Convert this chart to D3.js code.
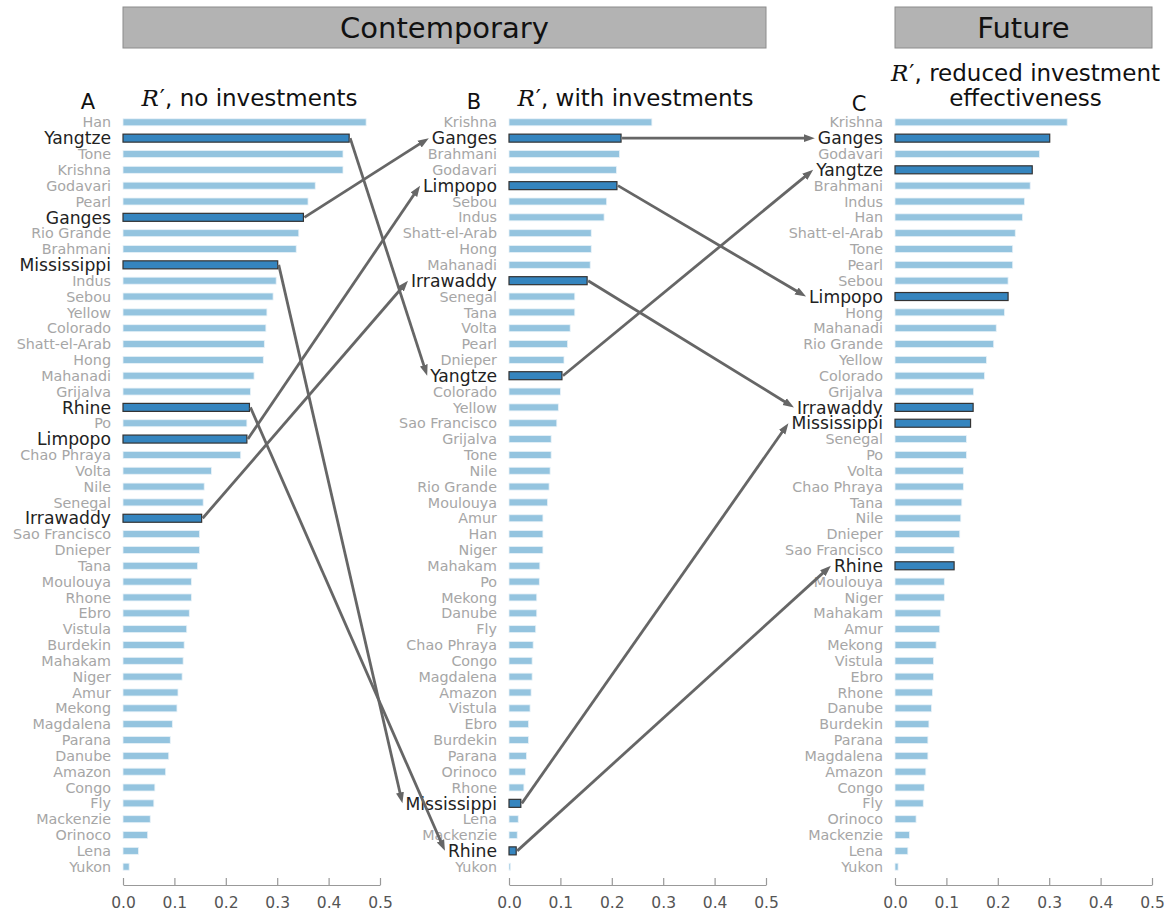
<!DOCTYPE html>
<html>
<head>
<meta charset="utf-8">
<script src="https://cdn.jsdelivr.net/npm/d3@7"></script>
<style>
  body { margin: 0; background: #fff; }
  text { font-family: "DejaVu Sans", sans-serif; }
</style>
</head>
<body>
<svg id="chart" width="1167" height="913"></svg>
<script>
// rivers and R' values
var riversA = ["Han","Yangtze","Tone","Krishna","Godavari","Pearl","Ganges","Rio Grande","Brahmani","Mississippi",
  "Indus","Sebou","Yellow","Colorado","Shatt-el-Arab","Hong","Mahanadi","Grijalva","Rhine","Po",
  "Limpopo","Chao Phraya","Volta","Nile","Senegal","Irrawaddy","Sao Francisco","Dnieper","Tana","Moulouya",
  "Rhone","Ebro","Vistula","Burdekin","Mahakam","Niger","Amur","Mekong","Magdalena","Parana",
  "Danube","Amazon","Congo","Fly","Mackenzie","Orinoco","Lena","Yukon"]
var valuesA = [0.473,0.440,0.428,0.428,0.374,0.360,0.351,0.342,0.337,0.301,
  0.298,0.292,0.280,0.278,0.275,0.273,0.255,0.248,0.246,0.241,
  0.241,0.229,0.172,0.158,0.156,0.153,0.149,0.149,0.145,0.133,
  0.133,0.129,0.124,0.119,0.117,0.115,0.107,0.105,0.096,0.092,
  0.089,0.083,0.062,0.060,0.053,0.048,0.030,0.012]

var riversB = ["Krishna","Ganges","Brahmani","Godavari","Limpopo","Sebou","Indus","Shatt-el-Arab","Hong","Mahanadi",
  "Irrawaddy","Senegal","Tana","Volta","Pearl","Dnieper","Yangtze","Colorado","Yellow","Sao Francisco",
  "Grijalva","Tone","Nile","Rio Grande","Moulouya","Amur","Han","Niger","Mahakam","Po",
  "Mekong","Danube","Fly","Chao Phraya","Congo","Magdalena","Amazon","Vistula","Ebro","Burdekin",
  "Parana","Orinoco","Rhone","Mississippi","Lena","Mackenzie","Rhine","Yukon"]
var valuesB = [0.278,0.218,0.215,0.209,0.210,0.190,0.185,0.160,0.160,0.158,
  0.152,0.128,0.128,0.119,0.114,0.107,0.103,0.100,0.096,0.093,
  0.082,0.082,0.080,0.078,0.075,0.066,0.066,0.066,0.060,0.059,
  0.054,0.054,0.052,0.047,0.045,0.045,0.043,0.041,0.038,0.038,
  0.034,0.032,0.029,0.023,0.018,0.016,0.014,0.003]

var riversC = ["Krishna","Ganges","Godavari","Yangtze","Brahmani","Indus","Han","Shatt-el-Arab","Tone","Pearl",
  "Sebou","Limpopo","Hong","Mahanadi","Rio Grande","Yellow","Colorado","Grijalva","Irrawaddy","Mississippi",
  "Senegal","Po","Volta","Chao Phraya","Tana","Nile","Dnieper","Sao Francisco","Rhine","Moulouya",
  "Niger","Mahakam","Amur","Mekong","Vistula","Ebro","Rhone","Danube","Burdekin","Parana",
  "Magdalena","Amazon","Congo","Fly","Orinoco","Mackenzie","Lena","Yukon"]
var valuesC = [0.335,0.301,0.281,0.267,0.263,0.252,0.248,0.234,0.229,0.229,
  0.220,0.220,0.213,0.197,0.192,0.178,0.174,0.153,0.152,0.147,
  0.139,0.139,0.133,0.133,0.130,0.128,0.126,0.115,0.115,0.096,
  0.096,0.089,0.087,0.080,0.075,0.075,0.073,0.071,0.066,0.064,
  0.064,0.060,0.057,0.055,0.041,0.028,0.025,0.006]

var highlighted = ["Yangtze","Ganges","Mississippi","Rhine","Limpopo","Irrawaddy"]
var xTicks = [0.0,0.1,0.2,0.3,0.4,0.5]

var svg = d3.select("#chart")
var lightBlue = "#94c4df", darkBlue = "#3585bf"

var panels = [
  {key:"A", left:123, rivers:riversA, values:valuesA, title:["no investments"]},
  {key:"B", left:509, rivers:riversB, values:valuesB, title:["with investments"]},
  {key:"C", left:895, rivers:riversC, values:valuesC, title:["reduced investment","effectiveness"]}
]

var y = d3.scalePoint().domain(d3.range(48)).range([122.3, 866.7])

// header boxes
function header(x0, x1, label){
  svg.append("rect").attr("x", x0).attr("y", 7).attr("width", x1 - x0).attr("height", 41)
    .attr("fill", "#b3b3b3").attr("stroke", "#8c8c8c").attr("stroke-width", 1)
  svg.append("text").attr("x", (x0 + x1)/2).attr("y", 27.5).attr("dy", "0.36em")
    .attr("text-anchor", "middle").attr("font-size", 29).attr("fill", "#111").text(label)
}

function rPrime(t){
  t.append("tspan").attr("font-family", "DejaVu Serif").attr("font-style", "italic").text("R")
  t.append("tspan").attr("font-family", "DejaVu Sans").attr("dx", 1).text("\u2032")
}

panels.forEach(function(p){
  p.x = d3.scaleLinear().domain([0, 0.5]).range([p.left, p.left + 257])
  p.labelX = {}
  p.barEnd = {}
  p.rowY = {}

  var g = svg.append("g")

  // title
  var cx = (p.x(0) + p.x(0.5))/2 - 2
  if (p.title.length == 1){
    var t = g.append("text").attr("x", cx).attr("y", 106).attr("text-anchor", "middle")
      .attr("font-size", 23).attr("fill", "#111")
    rPrime(t)
    t.append("tspan").text(", " + p.title[0])
    g.append("text").attr("x", p.left - 35).attr("y", 109).attr("text-anchor", "middle")
      .attr("font-size", 21).attr("fill", "#111").text(p.key)
  } else {
    var t = g.append("text").attr("x", cx + 4).attr("y", 81).attr("text-anchor", "middle")
      .attr("font-size", 23).attr("fill", "#111")
    rPrime(t)
    t.append("tspan").text(", " + p.title[0])
    g.append("text").attr("x", cx + 4).attr("y", 106).attr("text-anchor", "middle")
      .attr("font-size", 23).attr("fill", "#111").text(p.title[1])
    g.append("text").attr("x", p.left - 36).attr("y", 111).attr("text-anchor", "middle")
      .attr("font-size", 21).attr("fill", "#111").text(p.key)
  }

  // bars
  p.rivers.forEach(function(r, i){
    var hi = highlighted.indexOf(r) >= 0
    var h = hi ? 8 : 7
    g.append("rect")
      .attr("x", p.x(0)).attr("y", y(i) - h/2)
      .attr("width", p.x(p.values[i]) - p.x(0)).attr("height", h)
      .attr("fill", hi ? darkBlue : lightBlue)
      .attr("stroke", hi ? "#333" : "#e8f2f8")
      .attr("stroke-width", hi ? 1.2 : 0.8)

    var lab = g.append("text")
      .attr("x", p.x(0) - 12).attr("y", y(i)).attr("dy", "0.36em")
      .attr("text-anchor", "end")
      .attr("font-size", hi ? 17.2 : 14.3)
      .attr("fill", hi ? "#222" : "#a6a6a6")
      .text(r)
    p.labelX[r] = p.x(0) - 12 - lab.node().getComputedTextLength()
    p.barEnd[r] = p.x(p.values[i])
    p.rowY[r] = y(i)
  })

  // axis
  var ax = g.append("g").attr("transform", "translate(0,885)")
    .call(d3.axisBottom(p.x).tickValues(xTicks).tickFormat(d3.format(".1f"))
      .tickSizeInner(-7).tickSizeOuter(0).tickPadding(12))
  ax.select(".domain").attr("stroke", "#999").attr("stroke-width", 1.2)
  ax.selectAll(".tick line").attr("stroke", "#999").attr("stroke-width", 1.2)
  ax.selectAll(".tick text").attr("font-size", 15.5).attr("fill", "#555")
    .attr("font-family", "DejaVu Sans")
})

header(panels[0].x(0), panels[1].x(0.5), "Contemporary")
header(panels[2].x(0), panels[2].x(0.5), "Future")

// arrows between panels
svg.append("defs").append("marker")
  .attr("id", "head").attr("viewBox", "0 -5 12 10")
  .attr("markerUnits", "userSpaceOnUse").attr("markerWidth", 12).attr("markerHeight", 10)
  .attr("refX", 3).attr("refY", 0).attr("orient", "auto")
  .append("path").attr("d", "M0,-4L11,0L0,4Z").attr("fill", "#666")

var arrows = svg.append("g")
function arrow(from, to, r){
  var x1 = from.barEnd[r] + 1, y1 = from.rowY[r]
  var x2 = to.labelX[r] - 3, y2 = to.rowY[r]
  var dx = x2 - x1, dy = y2 - y1, len = Math.sqrt(dx*dx + dy*dy)
  arrows.append("line")
    .attr("x1", x1).attr("y1", y1)
    .attr("x2", x2 - 8*dx/len).attr("y2", y2 - 8*dy/len)
    .attr("stroke", "#666").attr("stroke-width", 2.8)
    .attr("marker-end", "url(#head)")
}
highlighted.forEach(function(r){
  arrow(panels[0], panels[1], r)
  arrow(panels[1], panels[2], r)
})
</script>
</body>
</html>
